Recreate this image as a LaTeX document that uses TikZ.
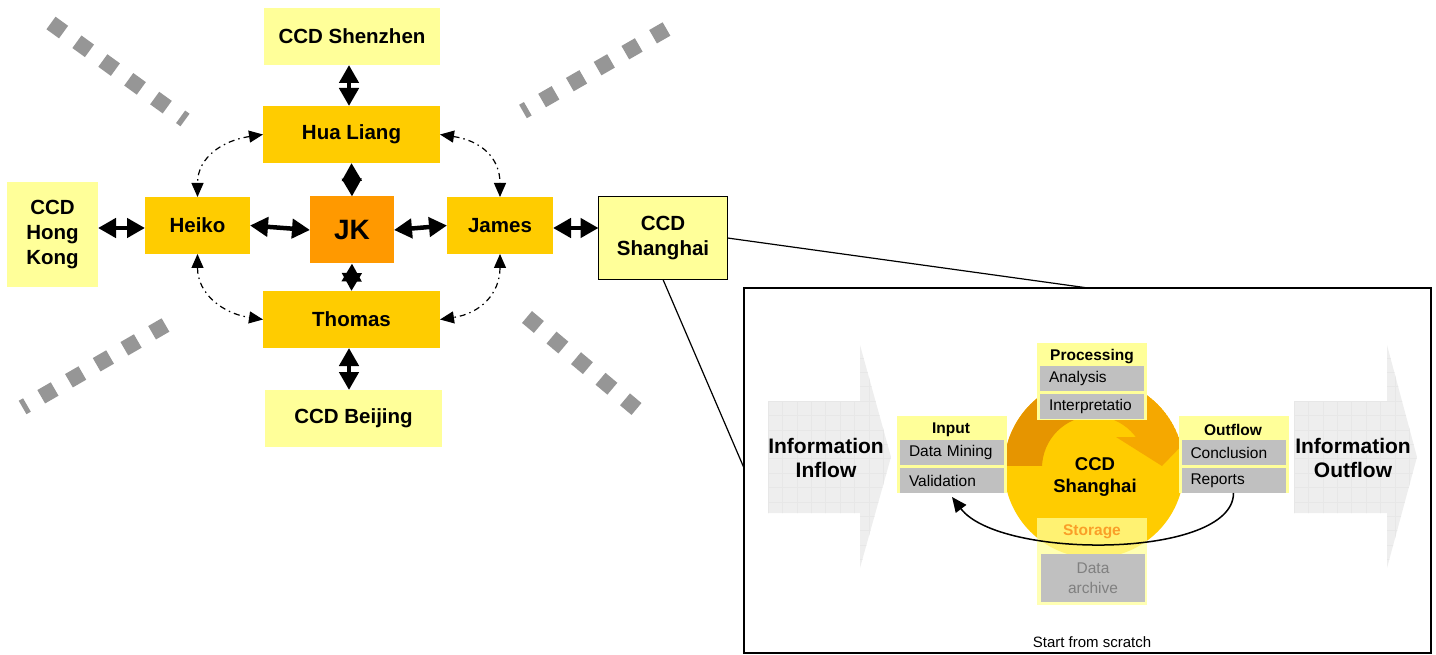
\documentclass[tikz,border=0pt]{standalone}
\usepackage{fontspec}
\setmainfont{Liberation Sans}
\usetikzlibrary{arrows.meta}
\definecolor{ly}{HTML}{FFFF99}
\definecolor{gold}{HTML}{FFCC00}
\definecolor{jkor}{HTML}{FF9900}
\definecolor{dgray}{HTML}{969696}
\definecolor{boxgray}{HTML}{C0C0C0}
\definecolor{arrowfill}{HTML}{EEEEEE}
\definecolor{gridc}{HTML}{E7E7E7}
\definecolor{bandL}{HTML}{E69500}
\definecolor{bandR}{HTML}{F5A800}
\definecolor{storc}{HTML}{FA9F28}
\definecolor{archc}{HTML}{808080}
\tikzset{
 city/.style={fill=ly, font=\fontsize{20.5}{25}\selectfont\bfseries, align=center},
 person/.style={fill=gold, font=\fontsize{20.5}{25}\selectfont\bfseries},
 big/.style={line width=4.5pt, >={Triangle[length=18pt,width=19pt]}, <->},
 dd/.style={line width=1.2pt, dash pattern=on 6pt off 4pt on 1.5pt off 4pt, >={Triangle[length=14pt,width=12pt]}, <->},
 graydash/.style={line width=15.5pt, dgray, dash pattern=on 15.5pt off 16.5pt},
 ybox/.style={fill=ly, minimum width=110pt, minimum height=77pt},
 graybox/.style={fill=boxgray, font=\fontsize{15.5}{18}\selectfont, align=left, inner xsep=9pt, inner ysep=0pt, text width=86pt, minimum height=25pt},
 ttl/.style={font=\fontsize{15.5}{18}\selectfont\bfseries},
 bigtext/.style={font=\fontsize{21}{24}\selectfont\bfseries, align=center},
}
\begin{document}
\begin{tikzpicture}[x=1pt,y=-1pt, every node/.style={inner sep=0pt, outer sep=0pt}]
\useasboundingbox (0,0) rectangle (1436,655);

% grey decorative dashes
\draw[graydash] (51,23) -- (185,120);
\draw[graydash] (666.5,29) -- (523,111.5);
\draw[graydash] (165.5,325) -- (22.6,407.5);
\draw[graydash] (527,317) -- (636.5,409);

% left network
\node[city, minimum width=176pt, minimum height=57pt] (shenzhen) at (352,36.5) {CCD Shenzhen};
\node[person, minimum width=177pt, minimum height=57pt] (hua) at (351.5,134.5) {Hua Liang};
\node[person, minimum width=105pt, minimum height=57pt] (heiko) at (197.5,225.5) {Heiko};
\node[fill=jkor, font=\fontsize{28}{30}\selectfont\bfseries, minimum width=84pt, minimum height=67pt] (jk) at (352,230) {JK};
\node[person, minimum width=106pt, minimum height=57pt] (james) at (500,225.5) {James};
\node[person, minimum width=177pt, minimum height=57pt] (thomas) at (351.5,319.5) {Thomas};
\node[city, minimum width=177pt, minimum height=57pt] (beijing) at (353.5,418.5) {CCD Beijing};
\node[city, minimum width=91pt, minimum height=105pt] (hk) at (52.5,234.5) {CCD\\Hong\\Kong};
\node[city, draw=black, line width=1.5pt, minimum width=129pt, minimum height=83pt] (sh) at (663,238) {CCD\\Shanghai};

\draw[big] ([xshift=-3pt]shenzhen.south) -- ([xshift=-2.5pt]hua.north);
\draw[big] (hua.south) -- (jk.north);
\draw[big] (jk.south) -- (thomas.north);
\draw[big] ([xshift=-2.5pt]thomas.south) -- ([xshift=-4.5pt]beijing.north);
\draw[big] ([yshift=-2.5pt]hk.east |- heiko.west) -- ([yshift=-2.5pt]heiko.west);
\draw[big] (heiko.east) -- (jk.west);
\draw[big] (jk.east) -- (james.west);
\draw[big] ([yshift=-2.5pt]james.east) -- ([yshift=-2.5pt]sh.west |- james.east);

\draw[dd] (hua.west) .. controls +(-40,6) and +(0,-40) .. (heiko.north);
\draw[dd] (hua.east) .. controls +(40,6) and +(0,-40) .. (james.north);
\draw[dd] (heiko.south) .. controls +(0,40) and +(-40,-6) .. (thomas.west);
\draw[dd] (james.south) .. controls +(0,40) and +(40,-6) .. (thomas.east);

% detail panel
\node[draw, line width=1.5pt, minimum width=687pt, minimum height=365pt] (panel) at (1087.5,470.5) {};
\coordinate (ptop) at (1088,288);
\coordinate (pleft) at (744,468);
\draw[line width=1.2pt] (sh.east) -- (ptop);
\draw[line width=1.2pt] (sh.south) -- (pleft);

% big grey arrows
\begin{scope}
\clip (768,401) -- (860,401) -- (860,345) -- (891,457) -- (860,568) -- (860,513) -- (768,513) -- cycle;
\fill[arrowfill] (760,340) rectangle (900,575);
\foreach \i in {0,...,9} \draw[gridc, line width=0.5pt] (768+\i*14.4,340) -- (768+\i*14.4,575);
\foreach \j in {-4,...,12} \draw[gridc, line width=0.5pt] (760,401+\j*14.4) -- (900,401+\j*14.4);
\end{scope}
\begin{scope}
\clip (1294,401) -- (1387,401) -- (1387,345) -- (1417,457) -- (1387,568) -- (1387,513) -- (1294,513) -- cycle;
\fill[arrowfill] (1286,340) rectangle (1425,575);
\foreach \i in {0,...,9} \draw[gridc, line width=0.5pt] (1294+\i*14.4,340) -- (1294+\i*14.4,575);
\foreach \j in {-4,...,12} \draw[gridc, line width=0.5pt] (1286,401+\j*14.4) -- (1425,401+\j*14.4);
\end{scope}
\node[bigtext] (inflow) at (826,458) {Information\\Inflow};
\node[bigtext] (outflow) at (1353,458) {Information\\Outflow};

% central circle with circular arrow bands
\node[circle, fill=gold, minimum size=180pt] (circ) at (1094,468) {};
\begin{scope}
\clip (1094,468) circle[radius=90pt];
\begin{scope}
\clip (1000,370) rectangle (1094,465);
\fill[bandL, even odd rule] (1094,468) circle[radius=90pt] (1094,468) circle[radius=52pt];
\end{scope}
\begin{scope}
\clip (1094,370) rectangle (1190,437);
\fill[bandR, even odd rule] (1094,468) circle[radius=90pt] (1094,468) circle[radius=52pt];
\end{scope}
\fill[bandR] (1116,437) -- (1190,437) -- (1162,466) -- cycle;
\end{scope}
\node[font=\fontsize{18.5}{22}\selectfont\bfseries, align=center] (ccdsh) at (1095,477) {CCD\\Shanghai};

% processing
\node[ybox] (procbox) at (1092,381.5) {};
\node[ttl] (proc) at (1092,357) {Processing};
\node[graybox] (analysis) at (1092,378.5) {Analysis};
\node[graybox] (interp) at (1092,406.5) {Interpretatio};
% input
\node[ybox] (inbox) at (952,454.5) {};
\node[ttl] (input) at (951,430) {Input};
\node[graybox] (datamining) at (952,452.5) {Data Mining};
\node[graybox] (validation) at (952,480.5) {Validation};
% outflow
\node[ybox] (outbox) at (1234,454.5) {};
\node[ttl] (outt) at (1233,430) {Outflow};
\node[graybox] (conclusion) at (1233.5,452.5) {Conclusion};
\node[graybox] (reports) at (1233.5,480.5) {Reports};
% storage
\node[fill=ly, fill opacity=0.75, minimum width=110pt, minimum height=87pt] (storbox) at (1092,561.5) {};
\node[ttl, text=storc] (storage) at (1092,532) {Storage};
\node[fill=boxgray, minimum width=104pt, minimum height=48pt, font=\fontsize{15.5}{20}\selectfont, text=archc, align=center] (archive) at (1093,578) {Data\\archive};

% feedback curve
\draw[line width=1.5pt, -{Triangle[length=15pt,width=13pt]}] (reports.south) .. controls ([yshift=-66pt]reports.south) and ([xshift=48pt,yshift=-67pt]validation.south) .. ([yshift=-4pt]validation.south);

\node[font=\fontsize{15}{18}\selectfont] (start) at (1092,642) {Start from scratch};
\end{tikzpicture}
\end{document}
